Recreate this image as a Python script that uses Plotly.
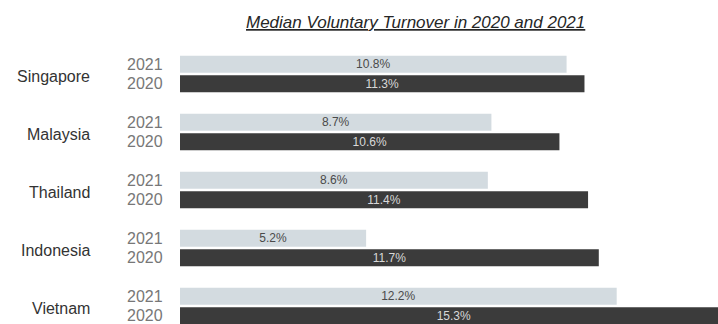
import plotly.graph_objects as go

countries = ["Singapore", "Malaysia", "Thailand", "Indonesia", "Vietnam"]
values_2021 = [10.8, 8.7, 8.6, 5.2, 12.2]
values_2020 = [11.3, 10.6, 11.4, 11.7, 15.3]
years = ["2021", "2020"]
title_text = "Median Voluntary Turnover in 2020 and 2021"

OFF = 0.168
idx = list(range(len(countries)))
y21 = [i - OFF for i in idx]
y20 = [i + OFF for i in idx]

FONT = "Liberation Sans, Arial, sans-serif"
W, H = 718, 324
L, T = 180, 45
plot_w = W - L
plot_h = H - T

fig = go.Figure()
fig.add_trace(go.Bar(
    x=values_2021, y=y21, orientation="h", width=0.29,
    marker=dict(color="#d3dbe0", line=dict(width=0)),
    text=[f"{v}%" for v in values_2021], textposition="inside",
    insidetextanchor="middle", constraintext="none",
    textfont=dict(family=FONT, size=12, color="#4a4a4a"),
    name="2021", showlegend=False,
))
fig.add_trace(go.Bar(
    x=values_2020, y=y20, orientation="h", width=0.29,
    marker=dict(color="#3b3b3b", line=dict(width=0)),
    text=[f"{v}%" for v in values_2020], textposition="inside",
    insidetextanchor="middle", constraintext="none",
    textfont=dict(family=FONT, size=12, color="#d8d8d8"),
    name="2020", showlegend=False,
))

# year labels next to each bar
for ya, yb in zip(y21, y20):
    for yv, lab in zip((ya, yb), years):
        fig.add_annotation(
            x=(165 - L) / plot_w, xref="paper", y=yv, yref="y",
            text=lab, showarrow=False, xanchor="right", yanchor="middle",
            font=dict(family=FONT, size=16, color="#777777"),
        )

for i, c in enumerate(countries):
    fig.add_annotation(
        x=(92 - L) / plot_w, xref="paper", y=i, yref="y", yshift=-2,
        text=c, showarrow=False, xanchor="right", yanchor="middle",
        font=dict(family=FONT, size=16, color="#333333"),
    )

fig.add_annotation(
    x=(415 - L) / plot_w, xref="paper", y=1 + (45 - 22) / plot_h, yref="paper",
    text=title_text, showarrow=False,
    font=dict(family=FONT, size=17, color="#262626", style="italic", lineposition="under"),
    xanchor="center", yanchor="middle",
)

fig.update_layout(
    width=W, height=H,
    margin=dict(l=L, r=0, t=T, b=0),
    plot_bgcolor="white", paper_bgcolor="white",
    barmode="overlay",
    xaxis=dict(range=[0, 15.03], visible=False, fixedrange=True),
    yaxis=dict(range=[4.31, -0.5], visible=False, fixedrange=True),
)

fig.write_html("out.html")
